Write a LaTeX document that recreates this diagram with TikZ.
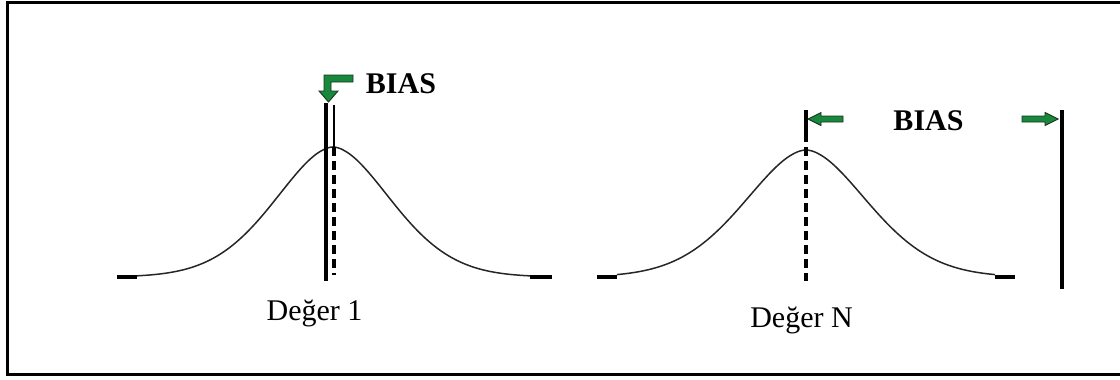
\documentclass[tikz,border=0pt]{standalone}
\usepackage{fontspec}
\setmainfont{Liberation Serif}
\begin{document}
\begin{tikzpicture}[x=1pt,y=-1pt,
  frame/.style={line width=3pt,black},
  curve/.style={line width=1.5pt,black!85},
  tick/.style={line width=3.2pt,black},
  solidline/.style={line width=4.5pt,black},
  dashline/.style={line width=4pt,black,dash pattern=on 9pt off 5pt},
  thinline/.style={line width=1.5pt,black},
  greenarrow/.style={fill={rgb,255:red,25;green,135;blue,60},draw={rgb,255:red,20;green,55;blue,30},line width=0.9pt,line join=miter},
  lbl/.style={anchor=base,inner sep=0pt,font=\fontsize{30}{34}\selectfont},
  blbl/.style={anchor=base,inner sep=0pt,font=\fontsize{30}{34}\selectfont\bfseries}
]
\useasboundingbox (0,0) rectangle (1120,380);
% frame (open on the right)
\draw[frame] (1125,2) -- (7,2) -- (7,374) -- (1125,374);

% ---------- left panel ----------
\draw[curve] plot[domain=-196:197,samples=160] ({333+\x},{277-130*exp(-pow(abs(\x)/83+0.0001,1.8))});
\draw[tick] (117,277) -- (137,277);
\draw[tick] (530,277) -- (552,277);
\draw[solidline] (326,103) -- (326,281);
\draw[thinline] (334,105) -- (334,147);
\draw[dashline] (334,147) -- (334,275);
% bent green arrow
\draw[greenarrow] (353,75) -- (324,75) -- (324,91) -- (319,91) -- (328.5,102) -- (338,91) -- (331,91) -- (331,82) -- (353,82) -- cycle;
\node[blbl] (bias1) at (401,93) {BIAS};
\node[lbl] (deger1) at (314.5,320) {Değer 1};

% ---------- right panel ----------
\draw[curve] plot[domain=-189:189,samples=160] ({806+\x},{277-127*exp(-pow(abs(\x)/88+0.0001,1.8))});
\draw[tick] (597,277) -- (617,277);
\draw[tick] (995,277) -- (1015,277);
\draw[solidline] (806,110) -- (806,142);
\draw[dashline] (806,147) -- (806,281);
\draw[solidline] (1062,110) -- (1062,289);
% green arrows
\draw[greenarrow] (808,119) -- (821,112.5) -- (821,116) -- (843,116) -- (843,122) -- (821,122) -- (821,125.5) -- cycle;
\draw[greenarrow] (1058,119) -- (1045,112.5) -- (1045,116) -- (1022,116) -- (1022,122) -- (1045,122) -- (1045,125.5) -- cycle;
\node[blbl] (bias2) at (928.5,130) {BIAS};
\node[lbl] (degerN) at (801.5,327) {Değer N};
\end{tikzpicture}
\end{document}
